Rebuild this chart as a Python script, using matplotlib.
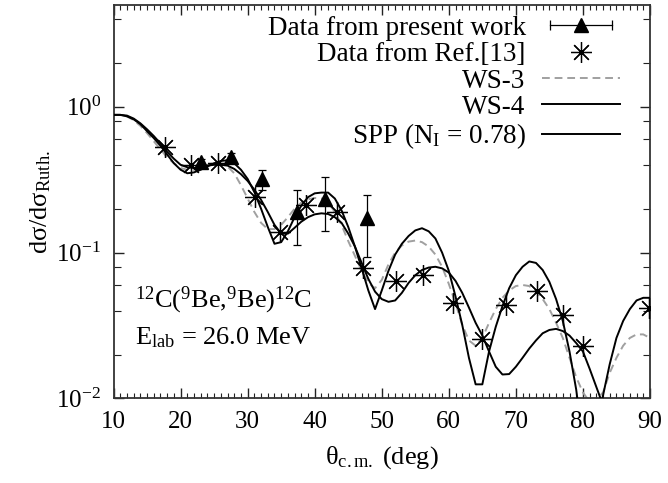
import numpy as np
import matplotlib
matplotlib.use('Agg')
import matplotlib.pyplot as plt
from matplotlib.lines import Line2D
from matplotlib.legend_handler import HandlerLine2D, HandlerTuple
from matplotlib.ticker import LogLocator, MultipleLocator, NullFormatter

plt.rcParams['font.family'] = ['Liberation Serif', 'DejaVu Serif']
plt.rcParams['mathtext.fontset'] = 'custom'
plt.rcParams['mathtext.rm'] = 'Liberation Serif'
plt.rcParams['mathtext.it'] = 'Liberation Serif:italic'
plt.rcParams['font.size'] = 18

# angles (deg) for the calculated curves
theta_calc = [10, 11, 12, 13, 14, 15, 16, 17, 18, 19, 20, 21, 22, 23, 24, 25, 26, 27, 28, 29,
              30, 31, 32, 33, 34, 35, 36, 37, 38, 39, 40, 41, 42, 43, 44, 45, 46, 47, 48, 49,
              50, 51, 52, 53, 54, 55, 56, 57, 58, 59, 60, 61, 62, 63, 64, 65, 66, 67, 68, 69,
              70, 71, 72, 73, 74, 75, 76, 77, 78, 79, 80, 81, 82, 83, 84, 85, 86, 87, 88, 89, 90]

ws3 = [0.88, 0.88, 0.86, 0.81, 0.74, 0.66, 0.58, 0.51, 0.45, 0.41,
       0.38, 0.37, 0.37, 0.385, 0.40, 0.41, 0.41, 0.39, 0.35, 0.29,
       0.235, 0.19, 0.16, 0.145, 0.145, 0.155, 0.175, 0.20, 0.22, 0.232,
       0.237, 0.235, 0.22, 0.19, 0.155, 0.12, 0.095, 0.075, 0.062, 0.057,
       0.065, 0.083, 0.10, 0.112, 0.119, 0.121, 0.118, 0.11, 0.097, 0.08,
       0.061, 0.045, 0.032, 0.025, 0.023, 0.026, 0.033, 0.041, 0.049, 0.055,
       0.059, 0.060, 0.059, 0.054, 0.048, 0.041, 0.033, 0.026, 0.019, 0.014,
       0.011, 0.0095, 0.0098, 0.011, 0.015, 0.019, 0.023, 0.026, 0.0275, 0.0275, 0.026]

ws4 = [0.88, 0.88, 0.86, 0.82, 0.76, 0.68, 0.61, 0.54, 0.47, 0.41,
       0.37, 0.35, 0.355, 0.37, 0.39, 0.41, 0.425, 0.43, 0.41, 0.37,
       0.32, 0.26, 0.20, 0.15, 0.115, 0.118, 0.14, 0.175, 0.21, 0.24,
       0.255, 0.258, 0.258, 0.235, 0.195, 0.15, 0.11, 0.078, 0.055, 0.041,
       0.055, 0.075, 0.097, 0.115, 0.13, 0.142, 0.147, 0.14, 0.125, 0.10,
       0.075, 0.05, 0.032, 0.019, 0.0125, 0.0125, 0.021, 0.031, 0.043, 0.057,
       0.07, 0.08, 0.087, 0.085, 0.076, 0.063, 0.048, 0.034, 0.021, 0.0115,
       0.005, 0.003, 0.006, 0.0105, 0.0172, 0.026, 0.034, 0.041, 0.047, 0.049, 0.049]

spp = [0.88, 0.88, 0.87, 0.83, 0.77, 0.70, 0.63, 0.56, 0.49, 0.44,
       0.40, 0.385, 0.38, 0.385, 0.395, 0.40, 0.40, 0.395, 0.375, 0.345,
       0.31, 0.27, 0.23, 0.19, 0.155, 0.135, 0.135, 0.148, 0.163, 0.175,
       0.183, 0.186, 0.184, 0.175, 0.16, 0.135, 0.11, 0.085, 0.066, 0.054,
       0.048, 0.046, 0.047, 0.053, 0.062, 0.07, 0.076, 0.079, 0.08, 0.078,
       0.073, 0.064, 0.053, 0.042, 0.033, 0.027, 0.021, 0.0165, 0.0146, 0.0147,
       0.0165, 0.019, 0.022, 0.025, 0.028, 0.0295, 0.030, 0.029, 0.027, 0.024,
       0.021, 0.016, 0.012, 0.009, 0.006, 0.004, 0.003, 0.003, 0.003, 0.003, 0.003]

# measured points, present work
theta_pw = [23.0, 27.5, 32.1, 37.4, 41.5, 47.8]
sig_pw = [0.42, 0.455, 0.32, 0.19, 0.235, 0.172]
err_pw = [0.02, 0.03, 0.05, 0.077, 0.095, 0.078]

# points from Ref.[13]
theta_ref = [17.7, 21.6, 25.6, 31.1, 34.8, 38.7, 43.3, 47.2, 52.1, 56.1,
             60.6, 65.0, 68.5, 73.2, 77.1, 80.0, 89.8]
sig_ref = [0.53, 0.40, 0.41, 0.24, 0.138, 0.213, 0.189, 0.079, 0.0636, 0.0707,
           0.0452, 0.0256, 0.044, 0.0543, 0.0372, 0.023, 0.0418]

fig = plt.figure(figsize=(6.68, 4.83), dpi=100)
ax = fig.add_axes([0.170, 0.175, 0.803, 0.815])

lw = 1.4
l3, = ax.plot(theta_calc, ws3, color='#a0a0a0', lw=lw, dashes=(4, 2.5), zorder=2)
l4, = ax.plot(theta_calc, ws4, color='black', lw=lw, zorder=3)
ls, = ax.plot(theta_calc, spp, color='black', lw=lw, zorder=3)

eb = ax.errorbar(theta_pw, sig_pw, yerr=err_pw, fmt='^', color='black', ms=10,
                 ecolor='black', elinewidth=0.9, capsize=3, capthick=0.9, zorder=5)
st, = ax.plot(theta_ref, sig_ref, ls='none', marker=(8, 2, 0), ms=15, mew=0.9,
              color='black', zorder=4)

ax.set_yscale('log')
ax.set_xlim(10, 90)
ax.set_ylim(0.01, 5)

ax.xaxis.set_major_locator(MultipleLocator(10))
ax.xaxis.set_minor_locator(MultipleLocator(1))
ax.yaxis.set_major_locator(LogLocator(base=10, numticks=10))
ax.yaxis.set_minor_locator(LogLocator(base=10, subs=(2, 4, 6, 8), numticks=10))
ax.yaxis.set_minor_formatter(NullFormatter())

ax.tick_params(which='both', direction='in', top=True, right=True, colors='#222222',
               labelcolor='black')
ax.tick_params(which='major', length=7, width=1.0, pad=9)
ax.tick_params(axis='x', which='minor', length=3.5, width=0.8)
ax.tick_params(axis='y', which='minor', length=5, width=0.8)
for sp in ax.spines.values():
    sp.set_linewidth(1.3)
    sp.set_color('#333333')

ax.set_xlabel('θ$_{\\rm c.m.}$ (deg)', labelpad=8, fontsize=19)
ax.set_ylabel('dσ/dσ$_{\\rm Ruth.}$', labelpad=2, fontsize=19)

ax.text(0.04, 0.25, r'$^{12}$C($^{9}$Be,$^{9}$Be)$^{12}$C', transform=ax.transAxes,
        ha='left', va='center', fontsize=19)
ax.text(0.04, 0.155, r'E$_{\rm lab}$ = 26.0 MeV', transform=ax.transAxes,
        ha='left', va='center', fontsize=19)

# key handle for the error bar data: horizontal bar with caps, triangle in the middle
bar_h = Line2D([], [], color='black', lw=0.9, marker='|', ms=7, mew=0.9)
tri_h = Line2D([], [], ls='none', marker='^', color='black', ms=10)
hmap = {bar_h: HandlerLine2D(numpoints=2), tri_h: HandlerLine2D(numpoints=1),
        tuple: HandlerTuple(ndivide=1)}
leg = ax.legend([(bar_h, tri_h), st, l3, l4, ls],
                ['Data from present work', 'Data from Ref.[13]', 'WS-3', 'WS-4',
                 'SPP (N$_{\\rm I}$ = 0.78)'],
                handler_map=hmap, markerfirst=False, frameon=False, numpoints=1,
                loc='upper right', bbox_to_anchor=(0.945, 0.972), borderaxespad=0,
                borderpad=0, handlelength=2.9, handletextpad=0.6, labelspacing=0.05,
                fontsize=19.5)
for col in leg._legend_handle_box.get_children():
    col.align = 'right'

fig.savefig('out.png', dpi=100)
